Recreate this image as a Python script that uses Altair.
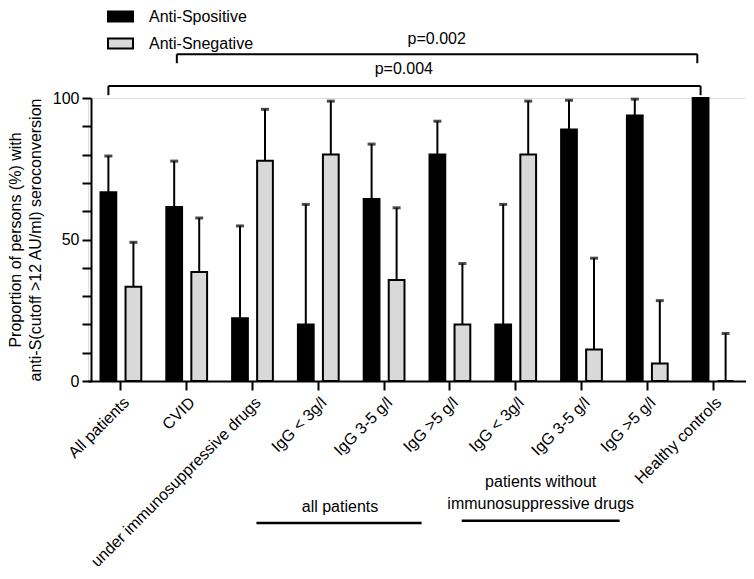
import altair as alt
import pandas as pd
import json

# ---------------- data ----------------
groups = ["All patients", "CVID", "under immunosuppressive drugs",
          "IgG < 3g/l", "IgG 3-5 g/l", "IgG >5 g/l",
          "IgG < 3g/l", "IgG 3-5 g/l", "IgG >5 g/l", "Healthy controls"]
series = ["Anti-Spositive", "Anti-Snegative"]
positive = [66.7, 61.5, 22.2, 20.0, 64.3, 80.0, 20.0, 88.9, 93.8, 100.0]
positive_upper = [79.5, 77.7, 54.8, 62.4, 83.7, 91.8, 62.4, 99.2, 99.6, None]
negative = [33.3, 38.5, 77.8, 80.0, 35.7, 20.0, 80.0, 11.1, 6.2, 0.0]
negative_upper = [49.0, 57.6, 96.0, 98.9, 61.2, 41.5, 98.9, 43.4, 28.4, 16.8]
y_ticks = [0, 10, 20, 30, 40, 50, 60, 70, 80, 90, 100]
y_labelled = [0, 50, 100]

p_labels = ["p=0.004", "p=0.002"]
subgroup_titles = ["all patients", "patients without", "immunosuppressive drugs"]

# ---------------- tables ----------------
rows = []
for i in range(len(groups)):
    rows.append(dict(idx=i, series=series[0], value=positive[i], upper=positive_upper[i]))
    rows.append(dict(idx=i, series=series[1], value=negative[i], upper=negative_upper[i]))
df = pd.DataFrame(rows)

# annotation geometry in "group units" (group i spans [i, i+1])
br_h = pd.DataFrame({"x": [0.31, 1.35], "x2": [9.31, 9.26], "y": [104.2, 115.5]})
br_v = pd.DataFrame({"x": [0.31, 9.31, 1.35, 9.26],
                     "y": [104.2, 104.2, 115.5, 115.5],
                     "y2": [101.0, 101.0, 112.3, 112.3]})
p_txt = pd.DataFrame({"x": [4.8, 5.3], "y": [110.2, 120.8], "t": p_labels})
sub_txt = pd.DataFrame({"x": [3.83, 6.88, 6.88], "y": [-44.4, -35.7, -43.5], "t": subgroup_titles})
sub_line = pd.DataFrame({"x": [2.56, 5.68], "x2": [5.07, 8.08], "y": [-50.2, -49.4]})

FONT = "Liberation Sans"
W, H = 658, 283

label_expr = json.dumps(groups) + "[datum.value]"
y_label_expr = "indexof(" + json.dumps(y_labelled) + ", datum.value) >= 0 ? datum.label : ''"

x_axis = alt.Axis(title=None, labelExpr=label_expr, labelAngle=-45,
                  labelFontSize=16, labelFont=FONT, labelLimit=400,
                  labelPadding=4, tickSize=9, tickWidth=2, domainWidth=2,
                  domainColor="black", tickColor="black", labelColor="black")
y_axis = alt.Axis(values=y_ticks, labelExpr=y_label_expr, labelOverlap=False,
                  title=["Proportion of persons (%) with",
                         "anti-S(cutoff >12 AU/ml) seroconversion"],
                  titleFontSize=16, titleFont=FONT, titleFontWeight="normal",
                  titlePadding=9, titleLineHeight=20, titleColor="black",
                  labelFontSize=16, labelFont=FONT, labelPadding=3,
                  tickSize=9, tickWidth=2, domainWidth=2, grid=False, offset=-3,
                  domainColor="black", tickColor="black", labelColor="black")

x_band = alt.X("idx:O", scale=alt.Scale(paddingInner=0, paddingOuter=0), axis=x_axis)
x_off = alt.XOffset("series:N", scale=alt.Scale(domain=series, paddingInner=0.37, paddingOuter=0.5))
y_scale = alt.Scale(domain=[0, 100], nice=False, zero=True)

bars = alt.Chart(df).mark_bar(stroke="black", strokeWidth=2).encode(
    x=x_band, xOffset=x_off, y=alt.Y("value:Q", scale=y_scale, axis=y_axis),
    color=alt.Color("series:N", sort=series,
                    scale=alt.Scale(domain=series, range=["black", "#d9d9d9"]),
                    legend=alt.Legend(title=None, orient="none", legendX=19, legendY=-95,
                                      symbolType="M-1,-0.4H1V0.4H-1Z", symbolSize=625,
                                      symbolStrokeWidth=2, symbolStrokeColor="black",
                                      labelFontSize=16, labelFont=FONT, labelColor="black",
                                      labelOffset=15, rowPadding=4)))

whisk = alt.Chart(df).transform_filter("isValid(datum.upper)").mark_rule(
    color="black", strokeWidth=2).encode(
    x=x_band, xOffset=x_off,
    y=alt.Y("value:Q", scale=y_scale, axis=y_axis), y2="upper:Q")

caps = alt.Chart(df).transform_filter("isValid(datum.upper)").mark_tick(
    color="black", size=8, thickness=3, orient="horizontal").encode(
    x=x_band, xOffset=x_off, y=alt.Y("upper:Q", scale=y_scale, axis=y_axis))

data_layer = alt.layer(bars, whisk, caps)

xq_scale = alt.Scale(domain=[0, 10], nice=False, zero=False)
yq_scale = alt.Scale(domain=[0, 100], nice=False, zero=False)

def XQ(f="x"):
    return alt.X(f + ":Q", scale=xq_scale, axis=None)

def YQ(f="y"):
    return alt.Y(f + ":Q", scale=yq_scale, axis=None)

bh = alt.Chart(br_h).mark_rule(color="black", strokeWidth=2).encode(x=XQ(), x2="x2:Q", y=YQ())
bv = alt.Chart(br_v).mark_rule(color="black", strokeWidth=2).encode(x=XQ(), y=YQ(), y2="y2:Q")
pt = alt.Chart(p_txt).mark_text(font=FONT, fontSize=16, color="black").encode(
    x=XQ(), y=YQ(), text="t:N")
st = alt.Chart(sub_txt).mark_text(font=FONT, fontSize=16, color="black").encode(
    x=XQ(), y=YQ(), text="t:N")
sl = alt.Chart(sub_line).mark_rule(color="black", strokeWidth=2.5).encode(x=XQ(), x2="x2:Q", y=YQ())

annot_layer = alt.layer(bh, bv, pt, st, sl)

chart = alt.layer(data_layer, annot_layer).resolve_scale(
    x="independent", y="independent"
).properties(
    width=W, height=H,
    padding={"left": 80, "top": 90, "right": 0, "bottom": 189},
    autosize=alt.AutoSizeParams(type="none"),
).configure_view(stroke=None).configure(font=FONT).configure_axis(labelOverlap=False)

chart.save("out.html", embed_options={"renderer": "svg", "actions": False})
